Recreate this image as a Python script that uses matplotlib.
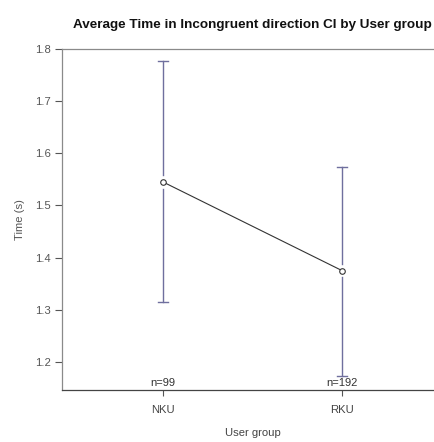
import matplotlib
matplotlib.use("Agg")
import matplotlib.pyplot as plt
import numpy as np

groups = ["NKU", "RKU"]
means = [1.545, 1.375]
ci_upper = [1.777, 1.574]
ci_lower = [1.315, 1.172]
n_counts = [99, 192]

plt.rcParams["font.family"] = ["Liberation Sans", "DejaVu Sans"]

fig = plt.figure(figsize=(4.34, 4.42), dpi=100)
ax = fig.add_axes([62 / 434, 1 - 390 / 442, 381 / 434, 341 / 442])

x = np.arange(1, len(groups) + 1)
bar_col = "#6f6f9e"
gap = 0.013

for xi, m, lo, hi in zip(x, means, ci_lower, ci_upper):
    ax.plot([xi, xi], [m + gap, hi], color=bar_col, lw=1.0)
    ax.plot([xi, xi], [lo, m - gap], color=bar_col, lw=1.0)
    ax.plot([xi - 0.028, xi + 0.028], [hi, hi], color=bar_col, lw=1.0)
    ax.plot([xi - 0.028, xi + 0.028], [lo, lo], color=bar_col, lw=1.0)

ax.plot(x, means, color="#333333", lw=0.8)
ax.plot(x, means, "o", ms=4, mfc="white", mec="#333333", mew=0.8)

for xi, n in zip(x, n_counts):
    ax.text(xi, 1.149, f"n={n}", ha="center", va="bottom", fontsize=8, color="#333333")

ax.set_xlim(0.436, 2.564)
ax.set_ylim(1.146, 1.80)
ax.set_xticks(x)
ax.set_xticklabels(groups)
yt = [1.2, 1.3, 1.4, 1.5, 1.6, 1.7, 1.8]
ax.set_yticks(yt)
ax.set_yticklabels([f"{v:.1f}" for v in yt])

for side in ["top", "left", "right"]:
    ax.spines[side].set_color("#8a8a8a")
    ax.spines[side].set_linewidth(0.9)
ax.spines["bottom"].set_color("#444444")
ax.spines["bottom"].set_linewidth(0.9)

ax.tick_params(axis="y", length=5, width=0.8, color="#555555", labelsize=8.1,
               labelcolor="#555555", pad=3)
ax.tick_params(axis="x", length=4, width=0.8, color="#555555", labelsize=8.1,
               labelcolor="#444444", pad=7)

ax.set_ylabel("Time (s)", fontsize=8.1, color="#555555", labelpad=7)
ax.set_xlabel("User group", fontsize=8.1, color="#444444", labelpad=9)
ax.set_title("Average Time in Incongruent direction CI by User group",
             fontsize=9.7, fontweight="bold", color="#111111", pad=15)

fig.savefig("out.png", dpi=100)
